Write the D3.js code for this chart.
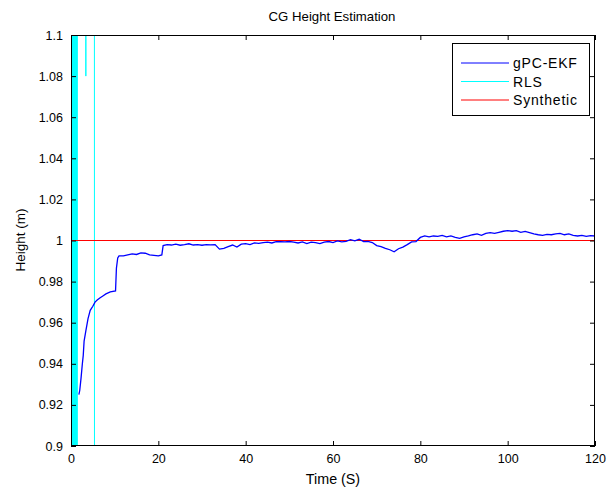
<!DOCTYPE html>
<html><head><meta charset="utf-8">
<script src="https://cdn.jsdelivr.net/npm/d3@7"></script>
<style>body{margin:0;background:#fff}text{font-family:"Liberation Sans",Arial,sans-serif}</style>
</head><body><svg id="c" width="608" height="491"></svg>
<script>
const xTicks = [0,20,40,60,80,100,120];
const yTicks = [0.9,0.92,0.94,0.96,0.98,1,1.02,1.04,1.06,1.08,1.1];
const seriesNames = ["gPC-EKF","RLS","Synthetic"];
const seriesColors = ["#0000ff","#00ffff","#ff0000"];

const ekfTime = [1.8,2.0,2.3,2.6,2.8,3.0,3.4,3.9,4.4,5,5.5,6,6.6,7.3,8,9,10.2,10.4,10.7,11,12,13,14,15,16,17,18,19,20,20.8,21.1,22,23,24,25,26,27,28,29,30,31,32,33,34,35,36,37,38,39,40,41,42,43,44,45,46,47,48,49,50,51,52,53,54,55,56,57,58,59,60,61,62,63,64,65,66,67,68,69,70,71,72,73,74,75,76,77,78,79,80,81,82,83,84,85,86,87,88,89,90,91,92,93,94,95,96,97,98,99,100,101,102,103,104,105,106,107,108,109,110,111,112,113,114,115,116,117,118,119,120];
const ekfValue = [0.925,0.927,0.933,0.940,0.944,0.951,0.956,0.962,0.966,0.968,0.970,0.971,0.972,0.973,0.974,0.975,0.9755,0.9865,0.9915,0.9925,0.9925,0.993,0.9935,0.9932,0.994,0.9938,0.993,0.9928,0.9925,0.993,0.9975,0.998,0.9978,0.9982,0.9977,0.998,0.9984,0.9978,0.998,0.9977,0.998,0.9979,0.998,0.9958,0.9962,0.997,0.9978,0.9968,0.9982,0.9985,0.998,0.9988,0.9986,0.999,0.9992,0.9988,0.9994,0.9995,0.9993,0.9995,0.9992,0.9988,0.9993,0.9985,0.9992,0.999,0.9985,0.9992,0.9995,0.999,0.9998,0.9993,0.9996,1.0004,0.9998,1.0006,0.9995,0.9996,0.999,0.9975,0.997,0.9962,0.9955,0.9945,0.996,0.9968,0.998,0.9993,0.9995,1.0015,1.0022,1.0018,1.0022,1.002,1.0025,1.0018,1.0022,1.0015,1.001,1.0018,1.0022,1.0028,1.0032,1.0025,1.0035,1.0038,1.0035,1.004,1.0045,1.0048,1.0045,1.0048,1.004,1.0044,1.0038,1.0032,1.0028,1.0025,1.003,1.0028,1.0032,1.0035,1.0028,1.0032,1.0025,1.0022,1.0025,1.002,1.0024,1.0022];

const rlsTime = [0.2,0.3,0.4,0.5,0.6,0.7,0.8,0.9,1.0,1.1,1.2,1.3,1.4,1.5,1.6,3.3,3.4,3.5,5.35,5.4,120];
const rlsValue = [0.5,1.6,0.4,1.8,0.3,1.5,0.6,1.7,0.5,1.4,0.7,1.3,0.6,1.5,1.3,1.3,1.08,1.3,1.3,0.5,0.5];

const synTime = [0,120];
const synValue = [1,1];

const svg = d3.select("#c");
const L=71,R=595,T=35,B=446;
const x = d3.scaleLinear().domain([0,120]).range([L,R]);
const y = d3.scaleLinear().domain([0.9,1.1]).range([B,T]);

svg.append("defs").append("clipPath").attr("id","clip").append("rect")
  .attr("x",L).attr("y",T).attr("width",R-L).attr("height",B-T);

const g = svg.append("g").attr("clip-path","url(#clip)");
const line = d3.line().x(d=>x(d[0])).y(d=>y(d[1]));
const mk = (t,v)=>t.map((d,i)=>[d,v[i]]);
g.append("path").datum(mk(rlsTime,rlsValue)).attr("d",line).attr("fill","none").attr("stroke",seriesColors[1]).attr("stroke-width",1);
g.append("path").datum(mk(synTime,synValue)).attr("d",line).attr("fill","none").attr("stroke",seriesColors[2]).attr("stroke-width",1);
g.append("path").datum(mk(ekfTime,ekfValue)).attr("d",line).attr("fill","none").attr("stroke",seriesColors[0]).attr("stroke-width",1.3);

// axes
const fmt = d=>d3.format("")(+d.toFixed(2));
const ax = (gen, tr)=>{const a=svg.append("g").attr("transform",tr).call(gen);a.select(".domain").remove();a.selectAll("line").attr("stroke","#000");a.selectAll("text").attr("font-size",12.5).attr("fill","#000");return a;};
ax(d3.axisBottom(x).tickValues(xTicks).tickSize(-5).tickPadding(8).tickFormat(fmt),`translate(0,${B})`);
ax(d3.axisTop(x).tickValues(xTicks).tickSize(-5).tickFormat(""),`translate(0,${T})`);
ax(d3.axisLeft(y).tickValues(yTicks).tickSize(-5).tickPadding(8).tickFormat(fmt),`translate(${L},0)`);
ax(d3.axisRight(y).tickValues(yTicks).tickSize(-5).tickFormat(""),`translate(${R},0)`);
svg.append("rect").attr("x",L+0.5).attr("y",T+0.5).attr("width",R-L-1).attr("height",B-T-1).attr("fill","none").attr("stroke","#000");

svg.append("text").attr("x",332).attr("y",21).attr("text-anchor","middle").attr("font-size",13.2).text("CG Height Estimation");
svg.append("text").attr("x",333).attr("y",484).attr("text-anchor","middle").attr("font-size",14.3).text("Time (S)");
svg.append("text").attr("transform","translate(25,240) rotate(-90)").attr("text-anchor","middle").attr("font-size",13.5).text("Height (m)");

// legend
const lg = svg.append("g");
lg.append("rect").attr("x",452.5).attr("y",43.5).attr("width",137).attr("height",72).attr("fill","#fff").attr("stroke","#000");
seriesNames.forEach((n,i)=>{
  const yy = 63 + i*18.5;
  lg.append("line").attr("x1",461).attr("x2",509).attr("y1",yy).attr("y2",yy).attr("stroke",seriesColors[i]);
  lg.append("text").attr("x",513).attr("y",yy+5).attr("font-size",14).attr("letter-spacing",0.8).text(n);
});
</script></body></html>
